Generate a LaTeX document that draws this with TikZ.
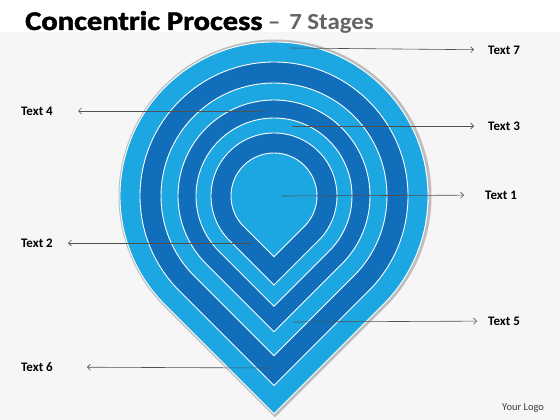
\documentclass[tikz,border=0pt]{standalone}
\usepackage{fontspec}
\setmainfont{Carlito}
\newfontfamily\heavyfont{Carlito}[BoldFeatures={FakeBold=1.6}]
\usetikzlibrary{arrows.meta}
\definecolor{lightb}{RGB}{28,166,226}
\definecolor{darkb}{RGB}{16,110,186}
\definecolor{bgc}{RGB}{246,246,246}
\definecolor{connc}{RGB}{80,80,80}
\definecolor{titlegray}{RGB}{100,100,100}
\begin{document}
\begin{tikzpicture}[x=1pt,y=-1pt,
  lbl/.style={font=\bfseries\fontsize{13}{15}\selectfont, inner ysep=1pt},
  connector/.style={draw=connc, line width=0.6pt, -{Straight Barb[length=3pt,width=6pt]}},
  layer/.style={draw=white, line width=0.9pt}]
\fill[bgc] (0,0) rectangle (560,420);
\fill[white] (0,0) rectangle (560,32);
\useasboundingbox (0,0) rectangle (560,420);
% shadow of outer pin
\draw[black!40, line width=3pt, opacity=0.6] (275,{196+1.41421*155}) -- ++({-0.70711*155},{-0.70711*155}) arc[start angle=135,end angle=405,radius=155] -- cycle;
% layers
\foreach \r/\c in {154/lightb,134/darkb,113/lightb,96/darkb,78/lightb,63/darkb,43/lightb}
  \filldraw[layer, fill=\c] (274,{196+1.41421*\r}) -- ++({-0.70711*\r},{-0.70711*\r}) arc[start angle=135,end angle=405,radius=\r] -- cycle;
% title
\node[anchor=base west, inner sep=0, font=\heavyfont\bfseries\fontsize{27}{30}\selectfont] (title) at (25,30) {\scalebox{1.13}[1]{Concentric Process}};
\node[anchor=base west, inner sep=0, font=\bfseries\fontsize{23}{26}\selectfont, text=titlegray] (sub) at (268,30) {\scalebox{1.08}[1]{–\hspace{0.35em}7 Stages}};
% labels
\node[lbl, anchor=west, inner xsep=14pt] (t7) at (474,50) {Text 7};
\node[lbl, anchor=west, inner xsep=14pt] (t3) at (474,126) {Text 3};
\node[lbl, anchor=west, inner xsep=21pt] (t1) at (464,195) {Text 1};
\node[lbl, anchor=west, inner xsep=11pt] (t5) at (477,321) {Text 5};
\node[lbl, anchor=east, inner xsep=25pt] (t4) at (78,111) {Text 4};
\node[lbl, anchor=east, inner xsep=15pt] (t2) at (68,243) {Text 2};
\node[lbl, anchor=east, inner xsep=34pt] (t6) at (87,367) {Text 6};
\node[anchor=west, inner sep=0, font=\fontsize{10.5}{12}\selectfont, text=black!75] (logo) at (502,408) {Your Logo};
% connector start points
\coordinate (p7) at (290,48);
\coordinate (p3) at (292,126);
\coordinate (p1) at (282,196);
\coordinate (p5) at (293,322);
\coordinate (p4) at (262,111);
\coordinate (p2) at (252,243);
\coordinate (p6) at (270,368);
\draw[connector] (p7) -- (t7);
\draw[connector] (p3) -- (t3);
\draw[connector] (p1) -- (t1);
\draw[connector] (p5) -- (t5);
\draw[connector] (p4) -- (t4);
\draw[connector] (p2) -- (t2);
\draw[connector] (p6) -- (t6);
\end{tikzpicture}
\end{document}
